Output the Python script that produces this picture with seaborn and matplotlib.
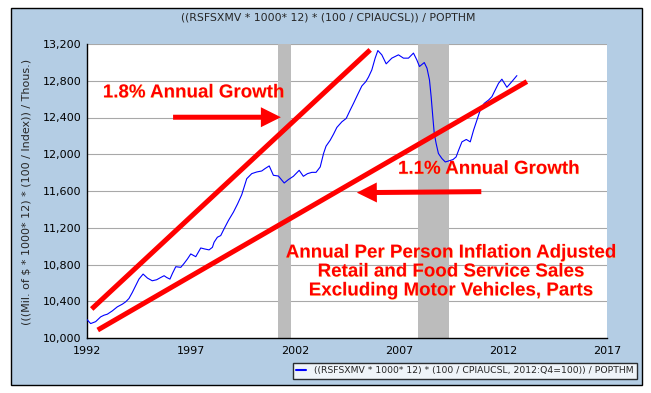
import numpy as np
import pandas as pd
import seaborn as sns
import matplotlib.pyplot as plt
import matplotlib.patheffects as pe
from matplotlib.patches import Rectangle
from matplotlib.lines import Line2D

# Series (fractional year, value)
years = [1992.00, 1992.19, 1992.43, 1992.67, 1992.83, 1992.99, 1993.23, 1993.47, 1993.71, 1993.87,
         1994.03, 1994.19, 1994.35, 1994.51, 1994.71, 1994.92, 1995.15, 1995.36, 1995.56, 1995.72,
         1995.84, 1996.00, 1996.12, 1996.28, 1996.52, 1996.68, 1996.84, 1997.00, 1997.24, 1997.48,
         1997.67, 1997.88, 1998.04, 1998.12, 1998.28, 1998.44, 1998.60, 1998.81, 1999.05, 1999.25,
         1999.45, 1999.69, 1999.93, 2000.17, 2000.41, 2000.57, 2000.77, 2000.97, 2001.21, 2001.49,
         2001.69, 2001.93, 2002.21, 2002.41, 2002.61, 2002.82, 2003.02, 2003.22, 2003.38, 2003.50,
         2003.70, 2003.86, 2004.02, 2004.26, 2004.47, 2004.66, 2004.82, 2005.01, 2005.22, 2005.41,
         2005.54, 2005.70, 2005.86, 2005.99, 2006.18, 2006.39, 2006.66, 2006.98, 2007.22, 2007.46,
         2007.70, 2007.86, 2007.99, 2008.22, 2008.35, 2008.47, 2008.55, 2008.63, 2008.70, 2008.79,
         2008.90, 2009.07, 2009.23, 2009.39, 2009.60, 2009.75, 2009.87, 2010.03, 2010.24, 2010.43,
         2010.59, 2010.75, 2010.91, 2011.10, 2011.31, 2011.47, 2011.63, 2011.79, 2011.95, 2012.19,
         2012.43, 2012.67]
values = [10204, 10157, 10178, 10230, 10248, 10259, 10295, 10339, 10368, 10393,
          10430, 10495, 10568, 10641, 10696, 10652, 10623, 10634, 10659, 10678,
          10659, 10641, 10703, 10776, 10769, 10812, 10860, 10915, 10885, 10980,
          10969, 10959, 10987, 11042, 11097, 11115, 11188, 11279, 11370, 11460,
          11560, 11734, 11789, 11807, 11818, 11844, 11873, 11771, 11763, 11687,
          11724, 11760, 11825, 11760, 11789, 11803, 11803, 11862, 12008, 12088,
          12153, 12219, 12292, 12353, 12390, 12481, 12554, 12645, 12743, 12790,
          12840, 12918, 13046, 13129, 13082, 12984, 13046, 13082, 13046, 13046,
          13101, 13028, 12955, 12998, 12937, 12809, 12627, 12408, 12226, 12117,
          12008, 11953, 11916, 11927, 11942, 11971, 12044, 12135, 12161, 12135,
          12263, 12372, 12481, 12554, 12590, 12627, 12700, 12773, 12817, 12729,
          12791, 12856]

# Recessions
rec_start = [2001.17, 2007.92]
rec_end = [2001.83, 2009.42]

# Hand-drawn trend lines (endpoints)
fast_x = [1992.24, 2005.62]
fast_y = [10316, 13136]
slow_x = [1992.53, 2013.15]
slow_y = [10087, 12791]

# Arrows (start, tip)
arrow1 = [(1996.15, 12403), (2001.33, 12403)]
arrow2 = [(2010.96, 11593), (2004.98, 11582)]

x_ticks = [1992, 1997, 2002, 2007, 2012, 2017]
y_ticks = [10000, 10400, 10800, 11200, 11600, 12000, 12400, 12800, 13200]
y_labels = ["10,000", "10,400", "10,800", "11,200", "11,600", "12,000", "12,400", "12,800", "13,200"]

title = "((RSFSXMV * 1000* 12) * (100 / CPIAUCSL)) / POPTHM"
ylabel = "(((Mil. of $ * 1000* 12) * (100 / Index)) / Thous.)"
legend_label = "((RSFSXMV * 1000* 12) * (100 / CPIAUCSL, 2012:Q4=100)) / POPTHM"

df = pd.DataFrame({"year": years, "value": values})

sns.set_style("white")
plt.rcParams["font.family"] = ["DejaVu Sans"]

W, H = 651, 393
fig = plt.figure(figsize=(W / 100, H / 100), dpi=100)
fig.patch.set_facecolor("white")
fig.add_artist(Rectangle((11 / W, 1 - 385 / H), 631 / W, 377 / H, transform=fig.transFigure,
                         facecolor="#b4cde4", edgecolor="black", lw=1.0, zorder=-10))

ax = fig.add_axes([86.7 / W, 1 - 338 / H, (607 - 86.7) / W, (338 - 44) / H])
ax.set_facecolor("white")

for s, e in zip(rec_start, rec_end):
    ax.axvspan(s, e, color="#bcbcbc", lw=0, zorder=1)

for yv in y_ticks[1:]:
    ax.axhline(yv, color="#a8a8a8", lw=0.8, zorder=0.5)

sns.lineplot(data=df, x="year", y="value", ax=ax, color="#0000ff", lw=0.8,
             estimator=None, zorder=3)

ax.plot(fast_x, fast_y, color="#ff0000", lw=3.6, solid_capstyle="butt", zorder=4)
ax.plot(slow_x, slow_y, color="#ff0000", lw=3.6, solid_capstyle="butt", zorder=4)

for start, tip in [arrow1, arrow2]:
    ax.annotate("", xy=tip, xytext=start,
                arrowprops=dict(arrowstyle="simple,head_length=0.72,head_width=0.72,tail_width=0.18",
                                mutation_scale=20, color="#ff0000", lw=0,
                                shrinkA=0, shrinkB=0), zorder=5)

shadow = [pe.withSimplePatchShadow(offset=(0.4, -0.4), shadow_rgbFace="#ffcc00", alpha=0.45)]
red_font = dict(color="#ff0000", fontsize=13.5, fontweight="bold", family="Liberation Sans",
                ha="center", va="center", zorder=6, path_effects=shadow)
ax.text(1997.13, 12668, "1.8% Annual Growth", **red_font)
ax.text(2011.31, 11837, "1.1% Annual Growth", **red_font)
ax.text(2009.49, 10719, "Annual Per Person Inflation Adjusted\nRetail and Food Service Sales\n"
        "Excluding Motor Vehicles, Parts", linespacing=1.15, **red_font)

ax.set_xlim(1992, 2017)
ax.set_ylim(10000, 13200)
ax.set_xticks(x_ticks)
ax.set_xticklabels([str(t) for t in x_ticks])
ax.set_yticks(y_ticks)
ax.set_yticklabels(y_labels)
ax.tick_params(axis="both", direction="in", length=4, width=1, color="black",
               labelsize=8, labelcolor="black")
ax.tick_params(axis="y", pad=4)
ax.tick_params(axis="x", pad=6)
ax.set_xlabel("")
ax.set_ylabel("")

for side in ["top", "right"]:
    ax.spines[side].set_visible(False)
for side in ["left", "bottom"]:
    ax.spines[side].set_color("black")
    ax.spines[side].set_linewidth(1.0)

fig.text(328 / W, 1 - 18 / H, title, ha="center", va="center", fontsize=7.8)
fig.text(27 / W, 1 - 192 / H, ylabel, ha="center", va="center", rotation=90, fontsize=8)

handle = Line2D([], [], color="#0000ff", lw=1.5)
leg = ax.legend([handle], [legend_label], loc="upper right",
                bbox_to_anchor=(637 / W, 1 - 363 / H), bbox_transform=fig.transFigure,
                fontsize=6.7, frameon=True, fancybox=False, handlelength=1.0,
                borderpad=0.35, handletextpad=0.9, borderaxespad=0)
leg.get_frame().set_edgecolor("black")
leg.get_frame().set_linewidth(1.0)
leg.get_frame().set_facecolor("white")

fig.savefig("out.png", dpi=100, facecolor=fig.get_facecolor())
